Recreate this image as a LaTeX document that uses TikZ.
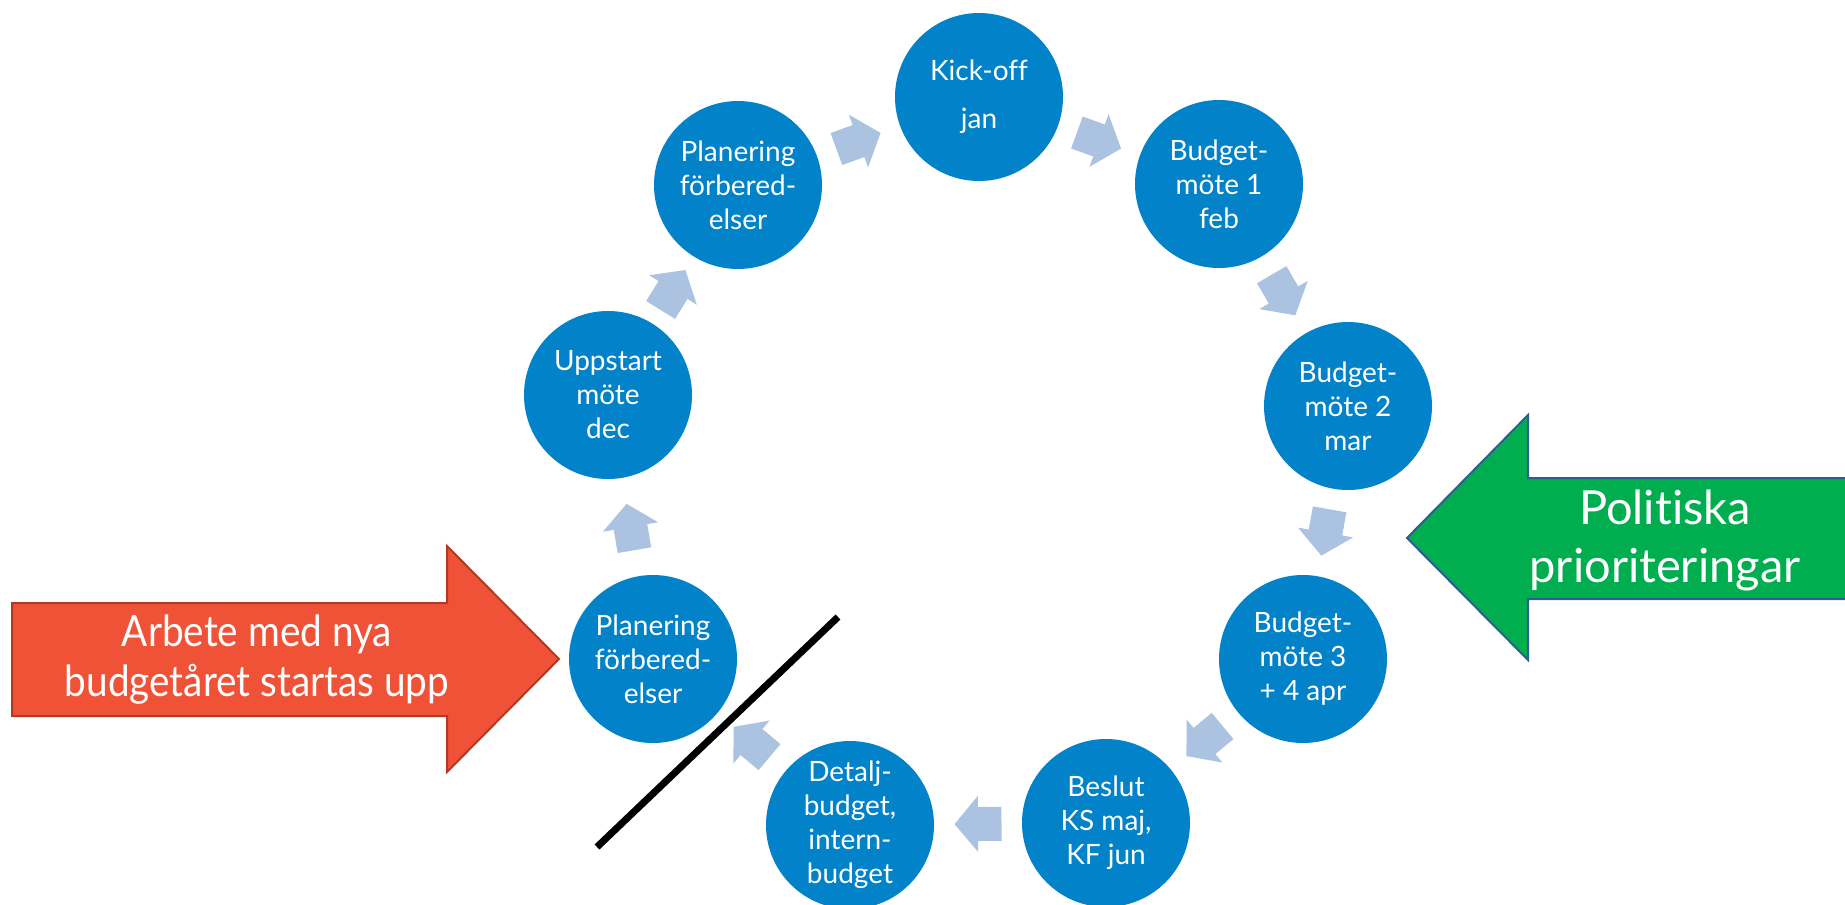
\documentclass[tikz,border=0pt]{standalone}
\usepackage{fontspec}
\setmainfont[Ligatures=NoCommon]{Lato}
\newfontfamily\narrowfont[FakeStretch=0.9,Ligatures=NoCommon]{Lato}
\usetikzlibrary{calc}
\definecolor{circblue}{HTML}{0282C8}
\definecolor{lightarrow}{HTML}{ABC2E0}
\definecolor{redfill}{HTML}{EF5236}
\definecolor{redline}{HTML}{B33A22}
\definecolor{greenfill}{HTML}{00AE4F}
\definecolor{greenline}{HTML}{2F5C92}
\begin{document}
\begin{tikzpicture}[x=1pt,y=-1pt,
  stage/.style={circle, fill=circblue, text=white, minimum size=168pt, inner sep=0pt, align=center, font=\fontsize{28}{34}\selectfont},
  bigtext/.style={text=white, align=center, inner sep=0pt},
  cyc/.pic={\fill[lightarrow] (-23.5,-17) -- (0,-17) -- (0,-28) -- (23.5,0) -- (0,28) -- (0,17) -- (-23.5,17) -- cycle;},
  sidearrow/.style={line width=2pt, line join=miter}
]
\useasboundingbox (0,0) rectangle (1845,905);

% side arrows
\draw[sidearrow, fill=redfill, draw=redline] (12,603) -- (447,603) -- (447,546) -- (559,659) -- (447,772) -- (447,716) -- (12,716) -- cycle;
\node[bigtext, font=\narrowfont\fontsize{43}{50}\selectfont] (red) at (257,660) {Arbete med nya\\budgetåret startas upp};

\draw[sidearrow, fill=greenfill, draw=greenline] (1870,478) -- (1528,478) -- (1528,415) -- (1407,538) -- (1528,660) -- (1528,599) -- (1870,599) -- cycle;
\node[bigtext, font=\fontsize{47}{58}\selectfont] (green) at (1665,540) {Politiska\\prioriteringar};

% stages
\node[stage] (pt) at (738,185) {Planering\\förbered-\\elser};
\node[stage, font=\fontsize{28}{48}\selectfont] (ko) at (979,97) {Kick-off\\jan};
\node[stage] (b1) at (1219,184) {Budget-\\möte 1\\feb};
\node[stage] (b2) at (1348,406) {Budget-\\möte 2\\mar};
\node[stage] (b3) at (1303,659) {Budget-\\möte 3\\+ 4 apr};
\node[stage] (be) at (1106,823) {Beslut\\KS maj,\\KF jun};
\node[stage] (de) at (850,825) {Detalj-\\budget,\\intern-\\budget};
\node[stage] (pb) at (653,659) {Planering\\förbered-\\elser};
\node[stage] (up) at (608,395) {Uppstart\\möte\\dec};

% cycle arrows
\foreach \a/\b in {pt/ko, ko/b1, b1/b2, b2/b3, b3/be, be/de, de/pb, pb/up, up/pt} {
  \path let \p1=(\a.center), \p2=(\b.center), \n1={atan2(\y2-\y1,\x2-\x1)} in
    ($(\p1)!0.5!(\p2)$) pic[rotate=\n1] {cyc};
}

% slash
\coordinate (s1) at (597,847);
\coordinate (s2) at (838,617);
\draw[line width=7pt] (s1) -- (s2);
\end{tikzpicture}
\end{document}
